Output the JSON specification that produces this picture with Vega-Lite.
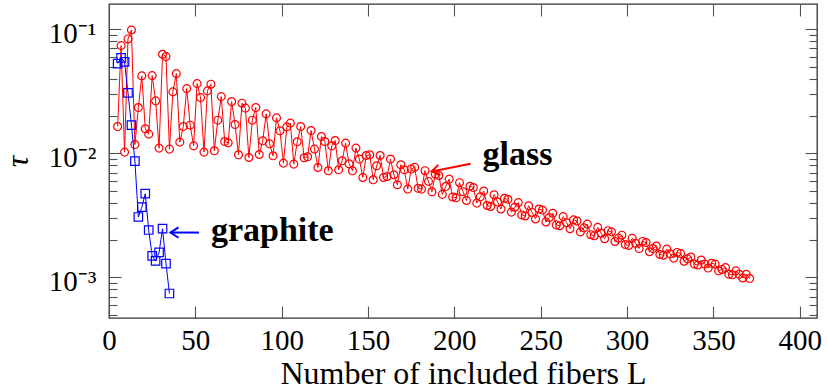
{
  "$schema": "https://vega.github.io/schema/vega-lite/v6.json",
  "width": 708,
  "height": 314,
  "autosize": {"type": "none"},
  "padding": {"left": 109, "top": 4, "right": 10, "bottom": 74},
  "background": "white",
  "config": {
    "view": {"stroke": "#333333", "strokeWidth": 1.3},
    "axis": {
      "labelFont": "Liberation Serif",
      "labelFontSize": 29,
      "labelColor": "#000000",
      "titleFont": "Liberation Serif",
      "titleFontSize": 32,
      "titleFontWeight": "normal",
      "titleColor": "#000000",
      "domain": false,
      "grid": false,
      "ticks": true,
      "tickColor": "#505050",
      "tickWidth": 1.1,
      "labelOverlap": false,
      "labelFlush": false
    }
  },
  "datasets": {
    "glass": [
      {"L":5,"tau":0.01644},{"L":7,"tau":0.07378},{"L":9,"tau":0.01023},{"L":11,"tau":0.08356},{"L":13,"tau":0.0987},{"L":15,"tau":0.01178},{"L":17,"tau":0.02339},{"L":19,"tau":0.04208},{"L":21,"tau":0.01576},{"L":23,"tau":0.01428},
      {"L":25,"tau":0.04231},{"L":27,"tau":0.02648},{"L":29,"tau":0.01102},{"L":31,"tau":0.06291},{"L":33,"tau":0.06018},{"L":35,"tau":0.01082},{"L":37,"tau":0.03128},{"L":39,"tau":0.04391},{"L":41,"tau":0.01231},{"L":43,"tau":0.01644},
      {"L":45,"tau":0.03325},{"L":47,"tau":0.01687},{"L":49,"tau":0.01149},{"L":51,"tau":0.03648},{"L":53,"tau":0.02814},{"L":55,"tau":0.01023},{"L":57,"tau":0.03187},{"L":59,"tau":0.03607},{"L":61,"tau":0.01048},{"L":63,"tau":0.01851},
      {"L":65,"tau":0.02867},{"L":67,"tau":0.01245},{"L":69,"tau":0.01215},{"L":71,"tau":0.02614},{"L":73,"tau":0.01707},{"L":75,"tau":0.00973},{"L":77,"tau":0.02537},{"L":79,"tau":0.02313},{"L":81,"tau":0.00926},{"L":83,"tau":0.01851},
      {"L":85,"tau":0.02339},{"L":87,"tau":0.00979},{"L":89,"tau":0.01262},{"L":91,"tau":0.0208},{"L":93,"tau":0.01193},{"L":95,"tau":0.00955},{"L":97,"tau":0.01931},{"L":99,"tau":0.01518},{"L":101,"tau":0.00834},{"L":103,"tau":0.01635},
      {"L":105,"tau":0.01751},{"L":107,"tau":0.00819},{"L":109,"tau":0.01239},{"L":111,"tau":0.01644},{"L":113,"tau":0.00921},{"L":115,"tau":0.00938},{"L":117,"tau":0.01527},{"L":119,"tau":0.01082},{"L":121,"tau":0.00769},{"L":123,"tau":0.01366},
      {"L":125,"tau":0.01245},{"L":127,"tau":0.00723},{"L":129,"tau":0.01149},{"L":131,"tau":0.01268},{"L":133,"tau":0.00737},{"L":135,"tau":0.00871},{"L":137,"tau":0.01209},{"L":139,"tau":0.00824},{"L":141,"tau":0.00723},{"L":143,"tau":0.01102},
      {"L":145,"tau":0.00899},{"L":147,"tau":0.00639},{"L":149,"tau":0.00961},{"L":151,"tau":0.00973},{"L":153,"tau":0.00612},{"L":155,"tau":0.00794},{"L":157,"tau":0.00961},{"L":159,"tau":0.00639},{"L":161,"tau":0.00651},{"L":163,"tau":0.00899},
      {"L":165,"tau":0.00672},{"L":167,"tau":0.00558},{"L":169,"tau":0.00809},{"L":171,"tau":0.00737},{"L":173,"tau":0.00515},{"L":175,"tau":0.00747},{"L":177,"tau":0.00773},{"L":179,"tau":0.00523},{"L":181,"tau":0.00515},{"L":183,"tau":0.00725},
      {"L":185,"tau":0.00594},{"L":187,"tau":0.0049},{"L":189,"tau":0.00678},{"L":191,"tau":0.00663},{"L":193,"tau":0.00467},{"L":195,"tau":0.0054},{"L":197,"tau":0.0062},{"L":199,"tau":0.00445},{"L":201,"tau":0.00438},{"L":203,"tau":0.0058},
      {"L":205,"tau":0.00491},{"L":207,"tau":0.00417},{"L":209,"tau":0.00543},{"L":211,"tau":0.0053},{"L":213,"tau":0.00397},{"L":215,"tau":0.00446},{"L":217,"tau":0.00497},{"L":219,"tau":0.0038},{"L":221,"tau":0.00373},{"L":223,"tau":0.00464},
      {"L":225,"tau":0.00405},{"L":227,"tau":0.00356},{"L":229,"tau":0.00434},{"L":231,"tau":0.00426},{"L":233,"tau":0.00336},{"L":235,"tau":0.00368},{"L":237,"tau":0.00401},{"L":239,"tau":0.00319},{"L":241,"tau":0.00313},{"L":243,"tau":0.00378},
      {"L":245,"tau":0.00334},{"L":247,"tau":0.00296},{"L":249,"tau":0.00356},{"L":251,"tau":0.00349},{"L":253,"tau":0.0028},{"L":255,"tau":0.00304},{"L":257,"tau":0.00329},{"L":259,"tau":0.00265},{"L":261,"tau":0.00261},{"L":263,"tau":0.00309},
      {"L":265,"tau":0.00276},{"L":267,"tau":0.00247},{"L":269,"tau":0.00291},{"L":271,"tau":0.00285},{"L":273,"tau":0.00233},{"L":275,"tau":0.00251},{"L":277,"tau":0.00269},{"L":279,"tau":0.00221},{"L":281,"tau":0.00217},{"L":283,"tau":0.00253},
      {"L":285,"tau":0.00227},{"L":287,"tau":0.00205},{"L":289,"tau":0.00238},{"L":291,"tau":0.00233},{"L":293,"tau":0.00195},{"L":295,"tau":0.00207},{"L":297,"tau":0.00219},{"L":299,"tau":0.00184},{"L":301,"tau":0.00181},{"L":303,"tau":0.00207},
      {"L":305,"tau":0.00188},{"L":307,"tau":0.00171},{"L":309,"tau":0.00195},{"L":311,"tau":0.00191},{"L":313,"tau":0.00161},{"L":315,"tau":0.00171},{"L":317,"tau":0.00179},{"L":319,"tau":0.00153},{"L":321,"tau":0.00151},{"L":323,"tau":0.00169},
      {"L":325,"tau":0.00155},{"L":327,"tau":0.00143},{"L":329,"tau":0.00159},{"L":331,"tau":0.00156},{"L":333,"tau":0.00135},{"L":335,"tau":0.00141},{"L":337,"tau":0.00146},{"L":339,"tau":0.00128},{"L":341,"tau":0.00126},{"L":343,"tau":0.00138},
      {"L":345,"tau":0.00128},{"L":347,"tau":0.00119},{"L":349,"tau":0.0013},{"L":351,"tau":0.00128},{"L":353,"tau":0.00113},{"L":355,"tau":0.00116},{"L":357,"tau":0.0012},{"L":359,"tau":0.00106},{"L":361,"tau":0.00105},{"L":363,"tau":0.00113},
      {"L":365,"tau":0.00106},{"L":367,"tau":0.00099},{"L":369,"tau":0.00106},{"L":371,"tau":0.00098}
    ],
    "graphite": [
      {"L":5,"tau":0.0529},{"L":7,"tau":0.0588},{"L":9,"tau":0.0546},{"L":11,"tau":0.0307},{"L":13,"tau":0.0169},{"L":15,"tau":0.00867},{"L":17,"tau":0.00307},{"L":19,"tau":0.00368},
      {"L":21,"tau":0.00473},{"L":23,"tau":0.00241},{"L":25,"tau":0.00149},{"L":27,"tau":0.00136},{"L":29,"tau":0.00159},{"L":31,"tau":0.00247},{"L":33,"tau":0.00129},{"L":35,"tau":0.000742}
    ],
    "glassArrow": [
      {"L":209.4,"tau":0.00823,"end":"tail"},
      {"L":186.8,"tau":0.00714,"end":"tip"}
    ],
    "graphiteArrow": [
      {"L":52.1,"tau":0.0023,"end":"tail"},
      {"L":35.6,"tau":0.0023,"end":"tip"}
    ],
    "names": [
      {"L":216.3,"tau":0.00808,"text":"glass"},
      {"L":59.0,"tau":0.00195,"text":"graphite"}
    ]
  },
  "layer": [
    {
      "data": {"name": "glass"},
      "mark": {"type": "line", "color": "#ff0000", "strokeWidth": 1},
      "encoding": {
        "x": {
          "field": "L", "type": "quantitative",
          "scale": {"domain": [0, 410], "nice": false, "zero": false},
          "axis": {
            "orient": "bottom",
            "values": [0, 50, 100, 150, 200, 250, 300, 350, 400],
            "ticks": true,
            "tickSize": -12,
            "labelPadding": 20,
            "title": "Number of included fibers L",
            "titlePadding": 3
          }
        },
        "y": {
          "field": "tau", "type": "quantitative",
          "scale": {"type": "log", "domain": [0.000471, 0.1598], "nice": false},
          "axis": {
            "orient": "left",
            "values": [0.0005, 0.0006, 0.0007, 0.0008, 0.0009, 0.001, 0.002, 0.003, 0.004, 0.005, 0.006, 0.007, 0.008, 0.009, 0.01, 0.02, 0.03, 0.04, 0.05, 0.06, 0.07, 0.08, 0.09, 0.1],
            "ticks": true,
            "tickSize": {"condition": {"test": "datum.value == 0.001 || datum.value == 0.01 || datum.value == 0.1", "value": -12}, "value": -8},
            "labelExpr": "datum.value == 0.1 ? '10⁻¹' : datum.value == 0.01 ? '10⁻²' : datum.value == 0.001 ? '10⁻³' : ''",
            "labelPadding": 25,
            "labelOffset": 4,
            "title": "τ",
            "titleFontStyle": "italic",
            "titlePadding": 14
          }
        }
      }
    },
    {
      "data": {"name": "glass"},
      "mark": {"type": "point", "shape": "circle", "filled": false, "color": "#ff0000", "size": 62, "strokeWidth": 1.2, "opacity": 1},
      "encoding": {
        "x": {"field": "L", "type": "quantitative", "scale": {"domain": [0, 410], "nice": false, "zero": false}, "axis": null},
        "y": {"field": "tau", "type": "quantitative", "scale": {"type": "log", "domain": [0.000471, 0.1598], "nice": false}, "axis": null}
      }
    },
    {
      "data": {"name": "graphite"},
      "mark": {"type": "line", "color": "#0000ff", "strokeWidth": 1},
      "encoding": {
        "x": {
          "field": "L", "type": "quantitative",
          "scale": {"domain": [0, 410], "nice": false, "zero": false},
          "axis": {"orient": "top", "values": [0, 50, 100, 150, 200, 250, 300, 350, 400], "ticks": true, "tickSize": -12, "labels": false, "title": null}
        },
        "y": {
          "field": "tau", "type": "quantitative",
          "scale": {"type": "log", "domain": [0.000471, 0.1598], "nice": false},
          "axis": {
            "orient": "right",
            "values": [0.0005, 0.0006, 0.0007, 0.0008, 0.0009, 0.001, 0.002, 0.003, 0.004, 0.005, 0.006, 0.007, 0.008, 0.009, 0.01, 0.02, 0.03, 0.04, 0.05, 0.06, 0.07, 0.08, 0.09, 0.1],
            "ticks": true,
            "tickSize": {"condition": {"test": "datum.value == 0.001 || datum.value == 0.01 || datum.value == 0.1", "value": -12}, "value": -8},
            "labels": false,
            "title": null
          }
        }
      }
    },
    {
      "data": {"name": "graphite"},
      "mark": {"type": "point", "shape": "square", "filled": false, "color": "#0000ff", "size": 72, "strokeWidth": 1.2, "opacity": 1},
      "encoding": {
        "x": {"field": "L", "type": "quantitative", "scale": {"domain": [0, 410], "nice": false, "zero": false}, "axis": null},
        "y": {"field": "tau", "type": "quantitative", "scale": {"type": "log", "domain": [0.000471, 0.1598], "nice": false}, "axis": null}
      }
    },
    {
      "data": {"name": "glassArrow"},
      "mark": {"type": "line", "color": "#ff0000", "strokeWidth": 2},
      "encoding": {
        "x": {"field": "L", "type": "quantitative", "scale": {"domain": [0, 410], "nice": false, "zero": false}, "axis": null},
        "y": {"field": "tau", "type": "quantitative", "scale": {"type": "log", "domain": [0.000471, 0.1598], "nice": false}, "axis": null}
      }
    },
    {
      "data": {"name": "glassArrow"},
      "transform": [{"filter": "datum.end == 'tip'"}],
      "mark": {"type": "point", "shape": "M1,-0.65L0,0L1,0.65", "filled": false, "color": "#ff0000", "size": 256, "strokeWidth": 2, "angle": -11, "opacity": 1},
      "encoding": {
        "x": {"field": "L", "type": "quantitative", "scale": {"domain": [0, 410], "nice": false, "zero": false}, "axis": null},
        "y": {"field": "tau", "type": "quantitative", "scale": {"type": "log", "domain": [0.000471, 0.1598], "nice": false}, "axis": null}
      }
    },
    {
      "data": {"name": "graphiteArrow"},
      "mark": {"type": "line", "color": "#0000ff", "strokeWidth": 2},
      "encoding": {
        "x": {"field": "L", "type": "quantitative", "scale": {"domain": [0, 410], "nice": false, "zero": false}, "axis": null},
        "y": {"field": "tau", "type": "quantitative", "scale": {"type": "log", "domain": [0.000471, 0.1598], "nice": false}, "axis": null}
      }
    },
    {
      "data": {"name": "graphiteArrow"},
      "transform": [{"filter": "datum.end == 'tip'"}],
      "mark": {"type": "point", "shape": "M1,-0.65L0,0L1,0.65", "filled": false, "color": "#0000ff", "size": 256, "strokeWidth": 2, "opacity": 1},
      "encoding": {
        "x": {"field": "L", "type": "quantitative", "scale": {"domain": [0, 410], "nice": false, "zero": false}, "axis": null},
        "y": {"field": "tau", "type": "quantitative", "scale": {"type": "log", "domain": [0.000471, 0.1598], "nice": false}, "axis": null}
      }
    },
    {
      "data": {"name": "names"},
      "mark": {"type": "text", "align": "left", "baseline": "alphabetic", "font": "Liberation Serif", "fontWeight": "bold", "fontSize": 34, "color": "#000000"},
      "encoding": {
        "x": {"field": "L", "type": "quantitative", "scale": {"domain": [0, 410], "nice": false, "zero": false}, "axis": null},
        "y": {"field": "tau", "type": "quantitative", "scale": {"type": "log", "domain": [0.000471, 0.1598], "nice": false}, "axis": null},
        "text": {"field": "text"}
      }
    }
  ],
  "resolve": {"axis": {"x": "independent", "y": "independent"}}
}
